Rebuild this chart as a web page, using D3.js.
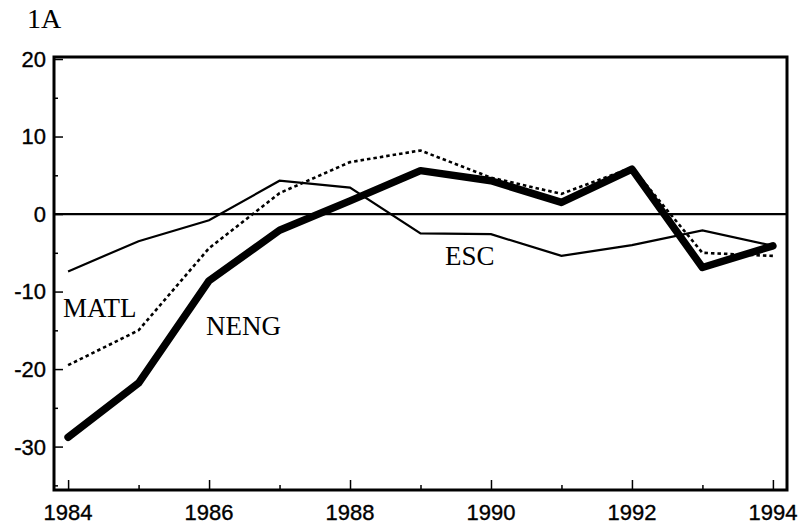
<!DOCTYPE html>
<html lang="en">
<head>
  <meta charset="UTF-8" />
  <title>1A</title>
  <script src="https://d3js.org/d3.v7.min.js"></script>
  <style>
    body { margin: 0; background: #fff; }
    svg { display: block; }
    .tick-label { font-family: "Liberation Sans", Arial, sans-serif; font-size: 22px; fill: #000; stroke: #000; stroke-width: 0.35px; }
    .series-label { font-family: "Liberation Serif", "Times New Roman", serif; font-size: 27px; fill: #000; }
  </style>
</head>
<body>
<svg id="chart"></svg>
<script>
const years = [1984, 1985, 1986, 1987, 1988, 1989, 1990, 1991, 1992, 1993, 1994];
const neng = [-28.8, -21.8, -8.6, -2.1, 1.7, 5.6, 4.3, 1.5, 5.8, -6.9, -4.1];
const matl = [-19.5, -15.0, -4.4, 2.7, 6.7, 8.2, 4.7, 2.6, 6.0, -5.0, -5.4];
const esc  = [-7.4, -3.5, -0.8, 4.3, 3.4, -2.5, -2.6, -5.4, -4.0, -2.1, -4.1];
const yMajor = [20, 10, 0, -10, -20, -30];
const yMinor = [15, 5, -5, -15, -25, -35];
const xMajor = [1984, 1986, 1988, 1990, 1992, 1994];
const xMinor = [1985, 1987, 1989, 1991, 1993];

const width = 800, height = 525;
const margin = {top: 57, right: 13, bottom: 35, left: 54};

const svg = d3.select("#chart").attr("width", width).attr("height", height);

const x = d3.scaleLinear().domain([1983.8, 1994.2]).range([margin.left, width - margin.right]);
const y = d3.scaleLinear().domain([-35.6, 20.26]).range([height - margin.bottom, margin.top]);

// panel label
svg.append("text")
  .attr("class", "series-label")
  .attr("x", 27).attr("y", 28)
  .style("font-size", "28px")
  .text("1A");

// zero line
svg.append("line")
  .attr("x1", x.range()[0]).attr("x2", x.range()[1])
  .attr("y1", y(0)).attr("y2", y(0))
  .attr("stroke", "#000").attr("stroke-width", 2.2);

// axes with inward ticks
const xAxis = svg.append("g").attr("transform", `translate(0,${y.range()[0]})`);
xAxis.call(d3.axisTop(x).tickValues(xMajor).tickSize(10).tickFormat(""));
xAxis.append("g").call(d3.axisTop(x).tickValues(xMinor).tickSize(5).tickFormat(""));
xAxis.selectAll(".domain").remove();
xAxis.selectAll("line").attr("stroke", "#000").attr("stroke-width", 1.5);

svg.append("g").selectAll("text")
  .data(xMajor).enter().append("text")
  .attr("class", "tick-label")
  .attr("x", d => x(d)).attr("y", 520)
  .attr("text-anchor", "middle")
  .text(d => d);

const yAxis = svg.append("g").attr("transform", `translate(${x.range()[0]},0)`);
yAxis.call(d3.axisRight(y).tickValues(yMajor).tickSize(9).tickFormat(""));
yAxis.append("g").call(d3.axisRight(y).tickValues(yMinor).tickSize(4).tickFormat(""));
yAxis.selectAll(".domain").remove();
yAxis.selectAll("line").attr("stroke", "#000").attr("stroke-width", 1.5);

svg.append("g").selectAll("text")
  .data(yMajor).enter().append("text")
  .attr("class", "tick-label")
  .attr("x", 46).attr("y", d => y(d))
  .attr("dy", "0.36em")
  .attr("text-anchor", "end")
  .text(d => d);

// frame
svg.append("rect")
  .attr("x", x.range()[0]).attr("y", y.range()[1])
  .attr("width", x.range()[1] - x.range()[0])
  .attr("height", y.range()[0] - y.range()[1])
  .attr("fill", "none").attr("stroke", "#000").attr("stroke-width", 3);

// series
const line = d3.line().x((d, i) => x(years[i])).y(d => y(d));

svg.append("path").datum(esc)
  .attr("d", line).attr("fill", "none")
  .attr("stroke", "#000").attr("stroke-width", 2.2);

svg.append("path").datum(matl)
  .attr("d", line).attr("fill", "none")
  .attr("stroke", "#000").attr("stroke-width", 2.6)
  .attr("stroke-dasharray", "3.5,3");

svg.append("path").datum(neng)
  .attr("d", line).attr("fill", "none")
  .attr("stroke", "#000").attr("stroke-width", 7.5)
  .attr("stroke-linecap", "round").attr("stroke-linejoin", "round");

// series labels
const labels = [
  {text: "MATL", px: 63, py: 317},
  {text: "NENG", px: 206, py: 335},
  {text: "ESC", px: 445, py: 265}
];
svg.append("g").selectAll("text")
  .data(labels).enter().append("text")
  .attr("class", "series-label")
  .attr("x", d => d.px).attr("y", d => d.py)
  .text(d => d.text);
</script>
</body>
</html>
